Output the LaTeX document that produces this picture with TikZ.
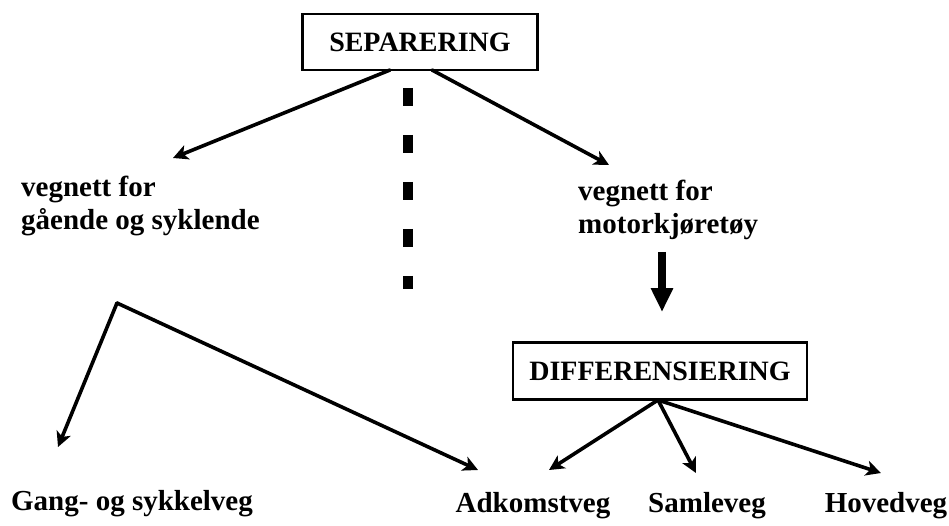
\documentclass[tikz,border=0pt]{standalone}
\usepackage{fontspec}
\setmainfont{Liberation Serif}
\usetikzlibrary{arrows.meta}
\begin{document}
\begin{tikzpicture}[x=1pt,y=-1pt,
  lbl/.style={font=\bfseries\fontsize{29}{33}\selectfont, inner sep=0pt},
  boxnode/.style={draw, line width=2.6pt, font=\bfseries\fontsize{28}{32}\selectfont, inner sep=0pt},
  conn/.style={line width=3.6pt, line cap=round, -{Stealth[length=15pt,width=15pt,inset=4pt]}},
  thickarrow/.style={line width=8pt, -{Triangle[length=24pt,width=21pt]}}
]
\useasboundingbox (0,0) rectangle (949,526);
\fill[white] (0,0) rectangle (949,526);

% boxes
\node[boxnode, minimum width=235pt, minimum height=56pt] (sep) at (420,42) {SEPARERING};
\node[boxnode, minimum width=294pt, minimum height=57pt] (diff) at (660,371) {DIFFERENSIERING};

% texts
\node[lbl, anchor=north west, align=left] (gaa) at (21,176) {vegnett for\\gående og syklende};
\node[lbl, anchor=north west, align=left] (mot) at (578,180) {vegnett for\\motorkjøretøy};
\node[lbl, anchor=base] (gang) at (132,510) {Gang- og sykkelveg};
\node[lbl, anchor=base] (adk) at (533,512) {Adkomstveg};
\node[lbl, anchor=base] (saml) at (707,512) {Samleveg};
\node[lbl, anchor=base] (hoved) at (886,512) {Hovedveg};

% connector points
\coordinate (sepL) at (390,70);
\coordinate (sepR) at (432,70);
\coordinate (tipGaa) at (173,158);
\coordinate (tipMot) at (609,165);
\coordinate (dashTop) at (408,88);
\coordinate (dashBot) at (408,289);
\coordinate (junc) at (117,303);
\coordinate (tipGang) at (58,447);
\coordinate (tipAdkL) at (478,470);
\coordinate (diffB) at (658,400);
\coordinate (tipAdk) at (549,470);
\coordinate (tipSaml) at (696,473);
\coordinate (tipHoved) at (881,473);
\coordinate (motB) at (662,252);
\coordinate (tipDiff) at (662,312);

% connectors
\draw[conn] (sepL) -- (tipGaa);
\draw[conn] (sepR) -- (tipMot);
\draw[line width=10pt, dash pattern=on 18pt off 29pt] (dashTop) -- (dashBot);
\draw[thickarrow] (motB) -- (tipDiff);
\draw[conn] (junc) -- (tipGang);
\draw[conn] (junc) -- (tipAdkL);
\draw[conn] (diffB) -- (tipAdk);
\draw[conn] (diffB) -- (tipSaml);
\draw[conn] (diffB) -- (tipHoved);
\end{tikzpicture}
\end{document}
